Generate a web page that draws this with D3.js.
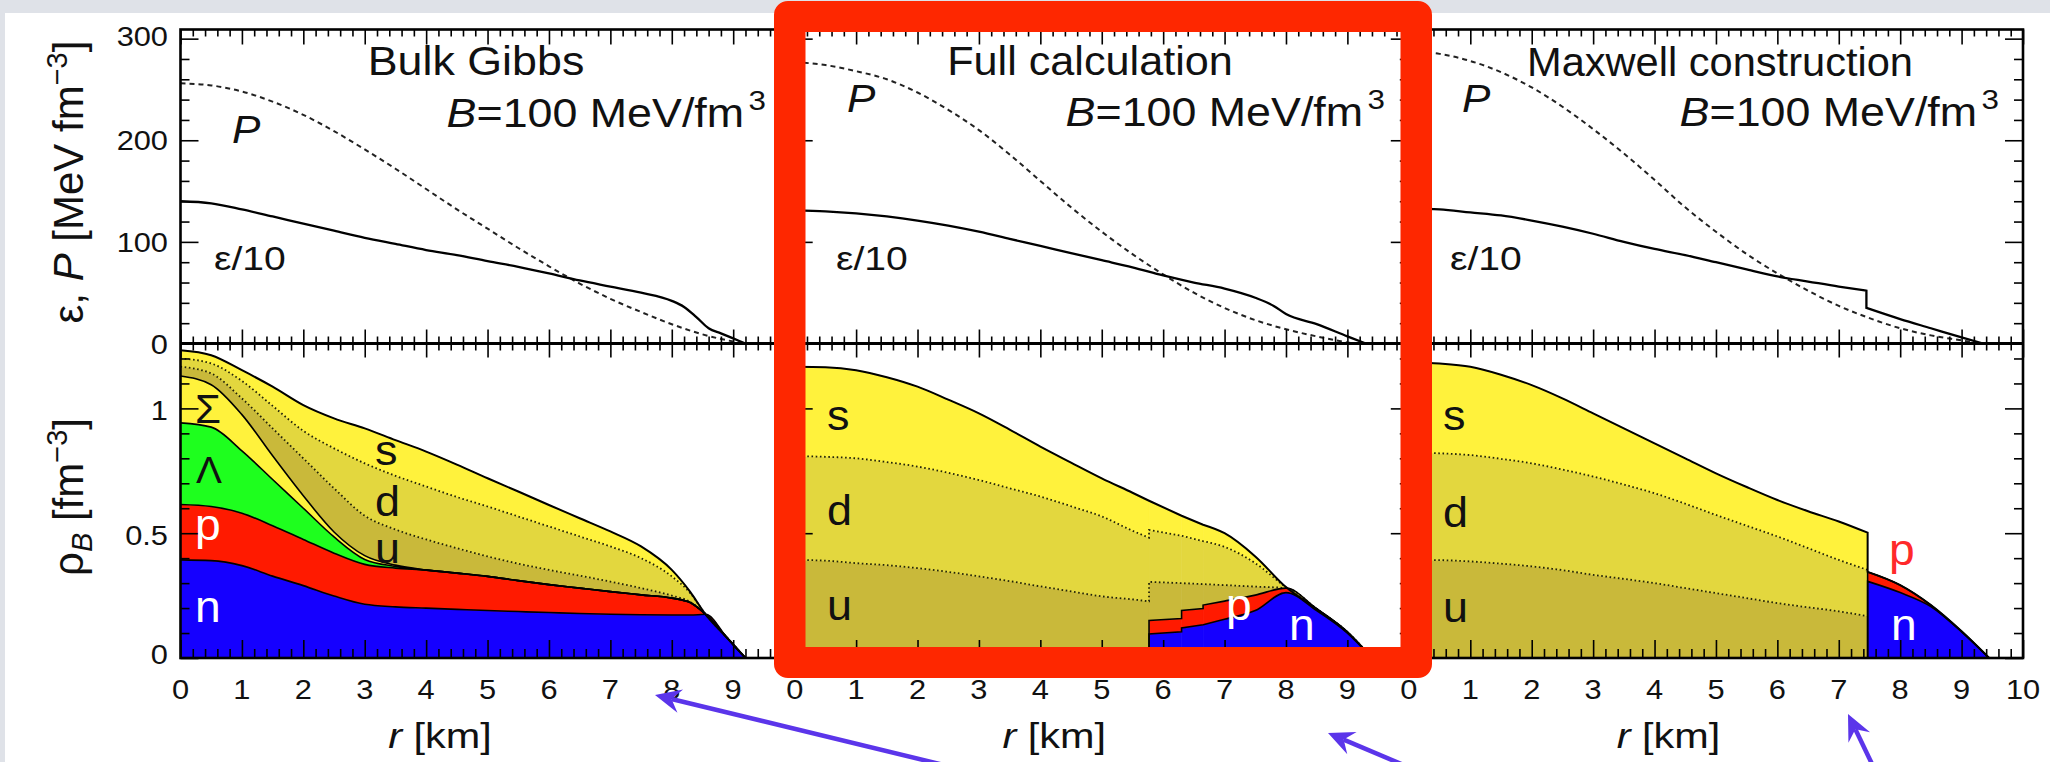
<!DOCTYPE html>
<html><head><meta charset="utf-8">
<script src="https://cdn.jsdelivr.net/npm/d3@7"></script>
<style>
html,body{margin:0;padding:0;background:#fff;overflow:hidden;}
svg text{font-family:"Liberation Sans",Arial,Helvetica,sans-serif;}
</style></head><body>
<script>
// ---------------- DATA ----------------
const panelTitles = ["Bulk Gibbs", "Full calculation", "Maxwell construction"];
const xTickLabels = [["0","1","2","3","4","5","6","7","8","9"],
                     ["0","1","2","3","4","5","6","7","8","9"],
                     ["0","1","2","3","4","5","6","7","8","9","10"]];
const yTopTicks = [0,100,200,300];
const yTopTickLabels = ["0","100","200","300"];
const yBotTicks = [0,0.5,1];
const yBotTickLabels = ["0","0.5","1"];

// top panels: epsilon/10 (solid) and P (dashed), MeV/fm^3 vs r [km]
const rEps1 = [0,0.5,1,1.5,2,2.5,3,3.5,4,4.5,5,5.5,6,6.5,7,7.5,8,8.2,8.4,8.6,8.8,9.0,9.2];
const eps1  = [140,138,132,125,118,111,104,98,92,87,81,75.5,69,62,56,50,42,36,26,15,10,5,0];
const rP1   = [0,0.5,1,1.5,2,2.5,3,3.5,4,4.5,5,5.5,6,6.5,7,7.5,8,8.5,9,9.2];
const P1    = [256,254,248,238,225,209,191,172,152,132,113,94,76,59,44,31,19,9,2,0];

const rEps2 = [0,0.5,1,1.5,2,2.5,3,3.5,4,4.5,5,5.5,6,6.5,7,7.5,7.8,8.0,8.5,9.0,9.3];
const eps2  = [131,130,128,125,121,116,110,103,96,89,82,75,67,60,54,45,37,29,19,7,0];
const rP2   = [0,0.5,1,1.5,2,2.5,3,3.5,4,4.5,5,5.5,6,6.5,7,7.5,8,8.5,9,9.1];
const P2    = [277,274,268,260,247,230,210,186,160,134,110,88,68,50,35,23,14,7,1,0];

const rEps3 = [0,0.5,1,1.5,2,2.5,3,3.5,4,4.5,5,5.5,6,6.5,7,7.45,7.45,8,8.5,9,9.35];
const eps3  = [133,132,129,126,121,115,108,100,93,87,80,73,66,61,56,52,35,24,15,6,0];
const rP3   = [0,0.5,1,1.5,2,2.5,3,3.5,4,4.5,5,5.5,6,6.5,7,7.5,8,8.5,9,9.3];
const P3    = [288,285,278,267,252,233,211,187,161,134,110,88,69,52,37,25,15,8,3,0];

// bottom panels: cumulative tops of baryon density layers [fm^-3]
const r1   = [0,0.5,1,1.5,2,2.5,3,3.5,4,4.5,5,5.5,6,6.5,7,7.5,8,8.3,8.55,8.9,9.2];
const n1   = [0.393,0.39,0.37,0.328,0.29,0.248,0.215,0.205,0.2,0.195,0.19,0.186,0.182,0.178,0.175,0.173,0.172,0.172,0.175,0.081,0];
const p1   = [0.615,0.607,0.58,0.53,0.475,0.42,0.375,0.36,0.352,0.34,0.327,0.31,0.294,0.28,0.266,0.253,0.24,0.222,0.175,0.081,0];
const Lam1 = [0.942,0.925,0.83,0.715,0.6,0.485,0.395,0.367,0.352,0.34,0.327,0.31,0.294,0.28,0.266,0.253,0.24,0.222,0.175,0.081,0];
const Sig1 = [1.13,1.095,0.975,0.81,0.65,0.505,0.41,0.372,0.353,0.34,0.327,0.31,0.294,0.28,0.266,0.253,0.24,0.222,0.175,0.081,0];
const u1   = [1.167,1.14,1.04,0.92,0.8,0.68,0.57,0.515,0.475,0.44,0.407,0.378,0.353,0.33,0.306,0.28,0.25,0.225,0.175,0.081,0];
const d1   = [1.2,1.18,1.11,1.01,0.91,0.84,0.78,0.73,0.687,0.645,0.607,0.567,0.527,0.487,0.447,0.4,0.327,0.26,0.175,0.081,0];
const s1   = [1.233,1.213,1.153,1.087,1.013,0.96,0.92,0.873,0.827,0.775,0.72,0.667,0.613,0.56,0.507,0.447,0.353,0.265,0.175,0.081,0];

const r2 = [0,0.5,1,1.5,2,2.5,3,3.5,4,4.5,5,5.5,5.77,5.77,6.3,6.3,6.65,6.65,7.0,7.5,8.0,8.5,9.0,9.4];
const n2 = [0,0,0,0,0,0,0,0,0,0,0,0,0,0.096,0.105,0.12,0.133,0.133,0.155,0.19,0.262,0.19,0.1,0];
const p2 = [0,0,0,0,0,0,0,0,0,0,0,0,0,0.15,0.158,0.19,0.198,0.212,0.228,0.252,0.28,0.197,0.104,0];
const u2 = [0.393,0.39,0.38,0.372,0.36,0.345,0.327,0.308,0.287,0.267,0.247,0.235,0.227,0.305,0.3,0.3,0.296,0.296,0.292,0.286,0.28,0.197,0.104,0];
const d2 = [0.809,0.806,0.8,0.785,0.767,0.742,0.713,0.68,0.647,0.608,0.567,0.51,0.482,0.513,0.49,0.49,0.468,0.468,0.445,0.38,0.283,0.197,0.104,0];
const s2 = [1.167,1.165,1.153,1.125,1.087,1.035,0.98,0.915,0.847,0.783,0.72,0.662,0.63,0.63,0.57,0.57,0.534,0.534,0.5,0.407,0.284,0.197,0.104,0];

const r3 = [0,0.5,1,1.5,2,2.5,3,3.5,4,4.5,5,5.5,6,6.5,7,7.47,7.47,8,8.5,9,9.45];
const n3 = [0,0,0,0,0,0,0,0,0,0,0,0,0,0,0,0,0.307,0.262,0.206,0.105,0];
const p3 = [0,0,0,0,0,0,0,0,0,0,0,0,0,0,0,0,0.345,0.292,0.212,0.107,0];
const u3 = [0.393,0.392,0.387,0.378,0.367,0.352,0.333,0.317,0.3,0.28,0.26,0.24,0.22,0.203,0.187,0.167,0.345,0.292,0.212,0.107,0];
const d3v= [0.823,0.82,0.813,0.798,0.78,0.755,0.727,0.695,0.66,0.618,0.573,0.53,0.487,0.44,0.393,0.353,0.345,0.292,0.212,0.107,0];
const s3 = [1.185,1.18,1.167,1.135,1.093,1.04,0.98,0.92,0.86,0.8,0.74,0.685,0.633,0.588,0.547,0.502,0.345,0.292,0.212,0.107,0];

// ---------------- STYLE / LAYOUT ----------------
const C = {n:"#1500ff", p:"#ff1a00", L:"#1eff1e", S:"#fff23c", u:"#c9b93a", d:"#e3d73e", s:"#fff23c"};
const W=2050, H=762;
const PX=[180.5,794.7,1408.9], PW=614.1;
const TOP=29.5, MID=343.5, BOT=658;
const SX=1.12;

const svg = d3.select("body").append("svg").attr("width",W).attr("height",H);
svg.append("rect").attr("width",W).attr("height",H).attr("fill","#dfe2e8");
svg.append("rect").attr("x",5).attr("y",13).attr("width",W-5).attr("height",H-13).attr("fill","#fff");

const xs = PX.map(x0 => d3.scaleLinear().domain([0,10]).range([x0, x0+PW]));
const yT = d3.scaleLinear().domain([0,309]).range([MID,TOP]);
const yB = d3.scaleLinear().domain([0,1.26]).range([BOT,MID]);

const defs = svg.append("defs");
PX.forEach((x0,i)=>{
  defs.append("clipPath").attr("id","ct"+i).append("rect").attr("x",x0).attr("y",TOP).attr("width",PW).attr("height",MID-TOP);
  defs.append("clipPath").attr("id","cb"+i).append("rect").attr("x",x0).attr("y",MID).attr("width",PW).attr("height",BOT-MID);
});

function segsOf(rs){
  const segs=[]; let s=0;
  for(let i=1;i<rs.length;i++) if(rs[i]===rs[i-1]){segs.push([s,i-1]); s=i;}
  segs.push([s,rs.length-1]); return segs;
}
function linePath(rs, ys, xS, yS, onlyFirst){
  const segs = segsOf(rs);
  const gen = d3.line().x(i=>xS(rs[i])).y(i=>yS(ys[i])).curve(d3.curveMonotoneX);
  const use = onlyFirst ? [segs[0]] : segs;
  return use.map((sg,k)=>{ let p=gen(d3.range(sg[0],sg[1]+1)).replace(/Z$/,''); if(k>0) p='L'+p.slice(1); return p; }).join('');
}
function areaPaths(rs, lo, hi, xS, yS){
  const gen = d3.area().x(i=>xS(rs[i])).y0(i=>yS(lo?lo[i]:0)).y1(i=>yS(hi[i])).curve(d3.curveMonotoneX);
  return segsOf(rs).map(sg=>gen(d3.range(sg[0],sg[1]+1)));
}

// ---- bottom stacked areas ----
const bottomPanels = [
  {r:r1, layers:[[null,n1,C.n],[n1,p1,C.p],[p1,Lam1,C.L],[Lam1,Sig1,C.S],[Sig1,u1,C.u],[u1,d1,C.d],[d1,s1,C.s]],
   solid:[n1,p1,Lam1,Sig1], dotted:[u1,d1], outer:s1, dotFirst:false},
  {r:r2, layers:[[null,n2,C.n],[n2,p2,C.p],[p2,u2,C.u],[u2,d2,C.d],[d2,s2,C.s]],
   solid:[n2,p2], dotted:[u2,d2], outer:s2, dotFirst:false},
  {r:r3, layers:[[null,n3,C.n],[n3,p3,C.p],[p3,u3,C.u],[u3,d3v,C.d],[d3v,s3,C.s]],
   solid:[n3,p3], dotted:[u3,d3v], outer:s3, dotFirst:true}
];
bottomPanels.forEach((bp,i)=>{
  const g = svg.append("g").attr("clip-path",`url(#cb${i})`);
  bp.layers.forEach(([lo,hi,col])=>{
    areaPaths(bp.r, lo, hi, xs[i], yB).forEach(p=>{
      g.append("path").attr("d",p).attr("fill",col).attr("stroke",col).attr("stroke-width",0.6);
    });
  });
  bp.dotted.forEach(arr=>{
    g.append("path").attr("d",linePath(bp.r,arr,xs[i],yB,bp.dotFirst)).attr("fill","none")
     .attr("stroke","#222208").attr("stroke-width",1.8).attr("stroke-dasharray","1.6,2.6");
  });
  bp.solid.forEach(arr=>{
    g.append("path").attr("d",linePath(bp.r,arr,xs[i],yB,false)).attr("fill","none")
     .attr("stroke","#000").attr("stroke-width",1.6);
  });
  g.append("path").attr("d",linePath(bp.r,bp.outer,xs[i],yB,false)).attr("fill","none")
   .attr("stroke","#000").attr("stroke-width",2);
});

// ---- top panel lines ----
const topPanels = [[rEps1,eps1,rP1,P1],[rEps2,eps2,rP2,P2],[rEps3,eps3,rP3,P3]];
topPanels.forEach(([re,e,rp,p],i)=>{
  const g = svg.append("g").attr("clip-path",`url(#ct${i})`);
  g.append("path").attr("d",linePath(rp,p,xs[i],yT,false)).attr("fill","none")
   .attr("stroke","#222").attr("stroke-width",2).attr("stroke-dasharray","5,4");
  g.append("path").attr("d",linePath(re,e,xs[i],yT,false)).attr("fill","none")
   .attr("stroke","#000").attr("stroke-width",2.3);
});

// ---- ticks ----
const xMaj = d3.range(0,11);
const xMin = d3.range(0,51).map(k=>k*0.2).filter(v=>Math.abs(v-Math.round(v))>1e-6);
const yTMin = d3.range(20,309,20).filter(v=>v%100!==0);
const yBMin = d3.range(1,13).map(k=>k*0.1).filter(v=>Math.abs(v-0.5)>1e-6 && Math.abs(v-1)>1e-6);
function tk(axisFn, scale, vals, size, tr){
  const g = svg.append("g").attr("transform",tr)
    .call(axisFn(scale).tickValues(vals).tickSize(size).tickSizeOuter(0).tickFormat(""));
  g.select(".domain").remove();
  g.selectAll("text").remove();
  g.selectAll("line").attr("stroke","#000").attr("stroke-width",1.6);
}
xs.forEach((xS,i)=>{
  tk(d3.axisBottom,xS,xMaj,-18,`translate(0,${BOT})`);
  tk(d3.axisBottom,xS,xMin,-9,`translate(0,${BOT})`);
  tk(d3.axisBottom,xS,xMaj,14,`translate(0,${MID})`);
  tk(d3.axisBottom,xS,xMaj,-14,`translate(0,${MID})`);
  tk(d3.axisBottom,xS,xMin,7,`translate(0,${MID})`);
  tk(d3.axisBottom,xS,xMin,-7,`translate(0,${MID})`);
  tk(d3.axisTop,xS,xMaj,-15,`translate(0,${TOP})`);
  tk(d3.axisTop,xS,xMin,-7,`translate(0,${TOP})`);
  const xl = PX[i], xr = PX[i]+PW;
  tk(d3.axisLeft,yT,yTopTicks,-18,`translate(${xl},0)`);
  tk(d3.axisLeft,yT,yTMin,-9,`translate(${xl},0)`);
  tk(d3.axisLeft,yB,yBotTicks,-18,`translate(${xl},0)`);
  tk(d3.axisLeft,yB,yBMin,-9,`translate(${xl},0)`);
  tk(d3.axisRight,yT,yTopTicks,-18,`translate(${xr},0)`);
  tk(d3.axisRight,yT,yTMin,-9,`translate(${xr},0)`);
  tk(d3.axisRight,yB,yBotTicks,-18,`translate(${xr},0)`);
  tk(d3.axisRight,yB,yBMin,-9,`translate(${xr},0)`);
});

// frames
svg.append("rect").attr("x",PX[0]).attr("y",TOP).attr("width",PX[2]+PW-PX[0]).attr("height",BOT-TOP)
  .attr("fill","none").attr("stroke","#000").attr("stroke-width",2.6);
svg.append("line").attr("x1",PX[0]).attr("x2",PX[2]+PW).attr("y1",MID).attr("y2",MID)
  .attr("stroke","#000").attr("stroke-width",3);
[PX[1],PX[2]].forEach(x=>svg.append("line").attr("x1",x).attr("x2",x).attr("y1",TOP).attr("y2",BOT)
  .attr("stroke","#000").attr("stroke-width",2.6));

// ---- text helper ----
function txt(x,y,parts,o={}){
  const size=o.size||40, sx=(o.sx===undefined?SX:o.sx);
  const t = svg.append("text").attr("font-size",size).attr("text-anchor",o.anchor||"start")
    .attr("fill",o.fill||"#111")
    .attr("transform",`translate(${x},${y})`+(sx!==1?` scale(${sx},1)`:"")+(o.rot?` rotate(${o.rot})`:""));
  parts.forEach(p=>{
    if(typeof p==="string") p={t:p};
    const s=t.append("tspan").text(p.t);
    if(p.it) s.attr("font-style","italic");
    if(p.fs) s.attr("font-size",p.fs);
    if(p.dy!==undefined) s.attr("dy",p.dy);
    if(p.dx!==undefined) s.attr("dx",p.dx);
  });
  return t;
}

// tick labels
xs.forEach((xS,i)=>{
  xTickLabels[i].forEach((lab,k)=> txt(xS(k),699,[lab],{size:28,anchor:"middle",sx:1.1}));
  txt(PX[i]+259.5,748,[{t:"r",it:true}," [km]"],{size:36,anchor:"middle",sx:1.15});
});
yTopTicks.forEach((v,k)=> txt(168,yT(v)+10-(v===300?3:0),[yTopTickLabels[k]],{size:28,anchor:"end",sx:1.1}));
yBotTicks.forEach((v,k)=> txt(168,(v===0?654:yB(v)+2)+10,[yBotTickLabels[k]],{size:28,anchor:"end",sx:1.1}));

// axis titles (rotated)
txt(83,182,["ε, ",{t:"P",it:true}," [MeV fm",{t:"−3",fs:29,dy:-16},{t:"]",dy:16}],{size:42,anchor:"middle",sx:1,rot:-90});
txt(83,497,["ρ",{t:"B",it:true,fs:29,dy:9},{t:" [fm",dy:-9},{t:"−3",fs:29,dy:-16},{t:"]",dy:16}],{size:42,anchor:"middle",sx:1,rot:-90});

// panel titles
txt(476,75,[panelTitles[0]],{anchor:"middle"});
txt(1090,75,[panelTitles[1]],{anchor:"middle",sx:1.08});
txt(1720,76,[panelTitles[2]],{anchor:"middle",sx:1.04});
const bEnds=[[766,127],[1385,126],[1999,126]];
bEnds.forEach(([x,y])=> txt(x,y,[{t:"B",it:true},"=100 MeV/fm",{t:"3",fs:28,dy:-17,dx:4}],{anchor:"end"}));
[[232,143],[847,112],[1462,112]].forEach(([x,y])=>txt(x,y,[{t:"P",it:true}],{size:38}));
[214,836,1450].forEach(x=>txt(x,270,["ε/10"],{size:34,sx:1.15}));

// bottom labels
const LS={size:42,sx:1.07};
txt(195,423,["Σ"],{size:40,sx:1.05}); txt(196,483,["Λ"],{size:37,sx:1.05});
txt(195,540,["p"],{size:44,sx:1.05,fill:"#fff"}); txt(195,622,["n"],{size:44,sx:1.05,fill:"#fff"});
txt(375,465,["s"],LS); txt(375,516,["d"],LS); txt(375,563,["u"],LS);
txt(827,430,["s"],LS); txt(827,525,["d"],LS); txt(827,620,["u"],LS);
txt(1226,620,["p"],{size:44,sx:1.05,fill:"#fff"}); txt(1289,640,["n"],{size:44,sx:1.05,fill:"#fff"});
txt(1443,430,["s"],LS); txt(1443,527,["d"],LS); txt(1443,622,["u"],LS);
txt(1889,565,["p"],{size:44,sx:1.05,fill:"#ff2a2a"}); txt(1891,640,["n"],{size:44,sx:1.05,fill:"#fff"});

// ---- red highlight box ----
(function(){
  const x0=774,y0=1,x1=1432,y1=678,r=14, ix0=805.5,iy0=32,ix1=1400.5,iy1=647;
  const d=`M${x0+r},${y0}H${x1-r}A${r},${r} 0 0 1 ${x1},${y0+r}V${y1-r}A${r},${r} 0 0 1 ${x1-r},${y1}H${x0+r}A${r},${r} 0 0 1 ${x0},${y1-r}V${y0+r}A${r},${r} 0 0 1 ${x0+r},${y0}Z`+
          `M${ix0},${iy0}H${ix1}V${iy1}H${ix0}Z`;
  svg.append("path").attr("d",d).attr("fill","#fe2700").attr("fill-rule","evenodd");
})();

// ---- purple arrows ----
function arrow(xa,ya,xb,yb){
  const a=Math.atan2(yb-ya,xb-xa), ux=Math.cos(a), uy=Math.sin(a), nx=-uy, ny=ux;
  const L=26, w=12, nt=17, col="#5b35ea";
  svg.append("line").attr("x1",xa).attr("y1",ya).attr("x2",xb-nt*ux).attr("y2",yb-nt*uy)
    .attr("stroke",col).attr("stroke-width",4.5);
  const pts=[[xb,yb],[xb-L*ux+w*nx,yb-L*uy+w*ny],[xb-nt*ux,yb-nt*uy],[xb-L*ux-w*nx,yb-L*uy-w*ny]];
  svg.append("polygon").attr("points",pts.map(p=>p.join(",")).join(" ")).attr("fill",col);
}
arrow(948,766,655,695);
arrow(1406,766,1328,733);
arrow(1873,766,1848,714);
</script>
</body></html>
